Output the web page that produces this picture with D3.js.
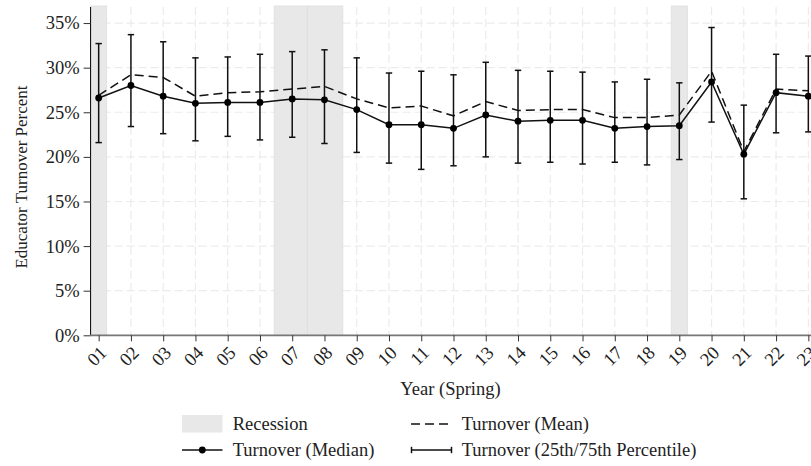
<!DOCTYPE html>
<html>
<head>
<meta charset="utf-8">
<script src="https://cdn.jsdelivr.net/npm/d3@7"></script>
<style>
  body { margin: 0; background: #fff; }
  text { font-family: "Liberation Serif", "Times New Roman", serif; }
</style>
</head>
<body>
<div id="chart"></div>
<script>
// données
const years = [1, 2, 3, 4, 5, 6, 7, 8, 9, 10, 11, 12, 13, 14, 15, 16, 17, 18, 19, 20, 21, 22, 23];
const median = [26.6, 28.0, 26.8, 26.0, 26.1, 26.1, 26.5, 26.4, 25.3, 23.6, 23.6, 23.2, 24.7, 24.0, 24.1, 24.1, 23.2, 23.4, 23.5, 28.4, 20.3, 27.2, 26.8];
const mean = [26.9, 29.2, 28.9, 26.8, 27.2, 27.3, 27.6, 27.9, 26.5, 25.5, 25.7, 24.6, 26.2, 25.2, 25.3, 25.3, 24.4, 24.4, 24.7, 29.6, 20.6, 27.6, 27.4];
const p75 = [32.7, 33.7, 32.9, 31.1, 31.2, 31.5, 31.8, 32.0, 31.1, 29.4, 29.6, 29.2, 30.6, 29.7, 29.6, 29.5, 28.4, 28.7, 28.3, 34.5, 25.8, 31.5, 31.3];
const p25 = [21.6, 23.4, 22.6, 21.8, 22.3, 21.9, 22.2, 21.5, 20.5, 19.3, 18.6, 19.0, 20.0, 19.3, 19.4, 19.2, 19.4, 19.1, 19.7, 23.9, 15.3, 22.7, 22.8];
// périodes de récession (en années)
const recessions = [[0.75, 1.25], [6.44, 7.47], [7.47, 8.57], [18.75, 19.25]];
const yTicks = [0, 5, 10, 15, 20, 25, 30, 35];

const width = 811;
const height = 466;
const fontSize = "18.5px";

const svg = d3.select("#chart")
    .append("svg")
    .attr("width", width)
    .attr("height", height);

const x = d3.scaleLinear()
    .domain([0.75, 23.25])
    .range([90.6, 816.4]);

const y = d3.scaleLinear()
    .domain([0, 36.8])
    .range([335.3, 7]);

const data = years.map((yr, i) => ({ yr, median: median[i], mean: mean[i], lo: p25[i], hi: p75[i] }));

// grille
const grid = svg.append("g");
grid.selectAll("line.v")
    .data(years)
    .join("line")
    .attr("class", "v")
    .attr("x1", d => x(d)).attr("x2", d => x(d))
    .attr("y1", y.range()[1]).attr("y2", y.range()[0])
    .attr("stroke", "#ebebeb")
    .attr("stroke-width", 1.2)
    .attr("stroke-dasharray", "8,4");
grid.selectAll("line.h")
    .data(yTicks.slice(1))
    .join("line")
    .attr("class", "h")
    .attr("x1", x.range()[0]).attr("x2", x.range()[1])
    .attr("y1", d => y(d)).attr("y2", d => y(d))
    .attr("stroke", "#ebebeb")
    .attr("stroke-width", 1.2)
    .attr("stroke-dasharray", "8,4");

// récessions
svg.selectAll("rect.rec")
    .data(recessions)
    .join("rect")
    .attr("class", "rec")
    .attr("x", d => x(d[0]))
    .attr("width", d => x(d[1]) - x(d[0]))
    .attr("y", y.range()[1] - 1)
    .attr("height", y.range()[0] - y.range()[1] + 1)
    .attr("fill", "#e8e8e8")
    .attr("stroke", "#dedede")
    .attr("stroke-width", 0.8);

// barres d'erreur
const bars = svg.append("g").attr("stroke", "#111").attr("stroke-width", 1.5);
bars.selectAll("line.err")
    .data(data)
    .join("line")
    .attr("class", "err")
    .attr("x1", d => x(d.yr)).attr("x2", d => x(d.yr))
    .attr("y1", d => y(d.lo)).attr("y2", d => y(d.hi));
bars.selectAll("line.capHi")
    .data(data)
    .join("line")
    .attr("class", "capHi")
    .attr("x1", d => x(d.yr) - 3.2).attr("x2", d => x(d.yr) + 3.2)
    .attr("y1", d => y(d.hi)).attr("y2", d => y(d.hi));
bars.selectAll("line.capLo")
    .data(data)
    .join("line")
    .attr("class", "capLo")
    .attr("x1", d => x(d.yr) - 3.2).attr("x2", d => x(d.yr) + 3.2)
    .attr("y1", d => y(d.lo)).attr("y2", d => y(d.lo));

// moyenne (tirets)
svg.append("path")
    .datum(data)
    .attr("fill", "none")
    .attr("stroke", "#111")
    .attr("stroke-width", 1.5)
    .attr("stroke-dasharray", "9,5")
    .attr("d", d3.line().x(d => x(d.yr)).y(d => y(d.mean)));

// médiane
svg.append("path")
    .datum(data)
    .attr("fill", "none")
    .attr("stroke", "#111")
    .attr("stroke-width", 1.5)
    .attr("d", d3.line().x(d => x(d.yr)).y(d => y(d.median)));
svg.selectAll("circle.med")
    .data(data)
    .join("circle")
    .attr("class", "med")
    .attr("cx", d => x(d.yr))
    .attr("cy", d => y(d.median))
    .attr("r", 3.4)
    .attr("fill", "#000");

// axe Y
const yAxis = svg.append("g")
    .attr("transform", `translate(${x.range()[0]},0)`)
    .call(d3.axisLeft(y).tickValues(yTicks).tickFormat(d => d + "%").tickSize(7).tickPadding(4));
yAxis.select(".domain").attr("stroke", "#000").attr("d", `M0,${y.range()[1]}V${y.range()[0]}`);
yAxis.selectAll(".tick line").attr("stroke", "#333");
yAxis.selectAll("text")
    .style("font-size", fontSize)
    .attr("fill", "#222")
    .attr("font-family", "Liberation Serif");

// axe X
const xAxis = svg.append("g")
    .attr("transform", `translate(0,${y.range()[0]})`)
    .call(d3.axisBottom(x).tickValues(years).tickFormat(d3.format("02d")).tickSize(6));
xAxis.select(".domain").attr("stroke", "#777").attr("stroke-width", 1.8).attr("d", `M${x.range()[0] - 0.5},0H${x.range()[1]}`);
xAxis.selectAll(".tick line").attr("stroke", "#333");
xAxis.selectAll("text")
    .style("font-size", fontSize)
    .attr("fill", "#222")
    .attr("font-family", "Liberation Serif")
    .attr("text-anchor", "end")
    .attr("dy", "0.35em")
    .attr("y", 0)
    .attr("transform", "translate(4,14) rotate(-45)");

// titres des axes
svg.append("text")
    .attr("transform", "translate(27,177) rotate(-90)")
    .attr("text-anchor", "middle")
    .style("font-size", "17px")
    .attr("fill", "#222")
    .text("Educator Turnover Percent");

svg.append("text")
    .attr("x", 450.5)
    .attr("y", 395)
    .attr("text-anchor", "middle")
    .style("font-size", fontSize)
    .attr("fill", "#222")
    .text("Year (Spring)");

// légende
const legend = svg.append("g");
legend.append("rect")
    .attr("x", 182).attr("y", 415)
    .attr("width", 40.5).attr("height", 17.5)
    .attr("fill", "#e8e8e8");
legend.append("line")
    .attr("x1", 182).attr("x2", 222.5)
    .attr("y1", 450).attr("y2", 450)
    .attr("stroke", "#111").attr("stroke-width", 1.5);
legend.append("circle")
    .attr("cx", 202.3).attr("cy", 450).attr("r", 3.4).attr("fill", "#000");
legend.append("line")
    .attr("x1", 411).attr("x2", 452)
    .attr("y1", 424).attr("y2", 424)
    .attr("stroke", "#111").attr("stroke-width", 1.5)
    .attr("stroke-dasharray", "9,5");
legend.append("line")
    .attr("x1", 411).attr("x2", 452)
    .attr("y1", 450).attr("y2", 450)
    .attr("stroke", "#111").attr("stroke-width", 1.5);
[411.5, 451.5].forEach(cx => {
    legend.append("line")
        .attr("x1", cx).attr("x2", cx)
        .attr("y1", 446.8).attr("y2", 453.2)
        .attr("stroke", "#111").attr("stroke-width", 1.5);
});

const legendText = [
    { label: "Recession", x: 232.7, y: 430 },
    { label: "Turnover (Median)", x: 232.7, y: 456 },
    { label: "Turnover (Mean)", x: 461.7, y: 430 },
    { label: "Turnover (25th/75th Percentile)", x: 461.7, y: 456 }
];
legend.selectAll("text")
    .data(legendText)
    .join("text")
    .attr("x", d => d.x)
    .attr("y", d => d.y)
    .style("font-size", fontSize)
    .attr("fill", "#222")
    .text(d => d.label);
</script>
</body>
</html>
